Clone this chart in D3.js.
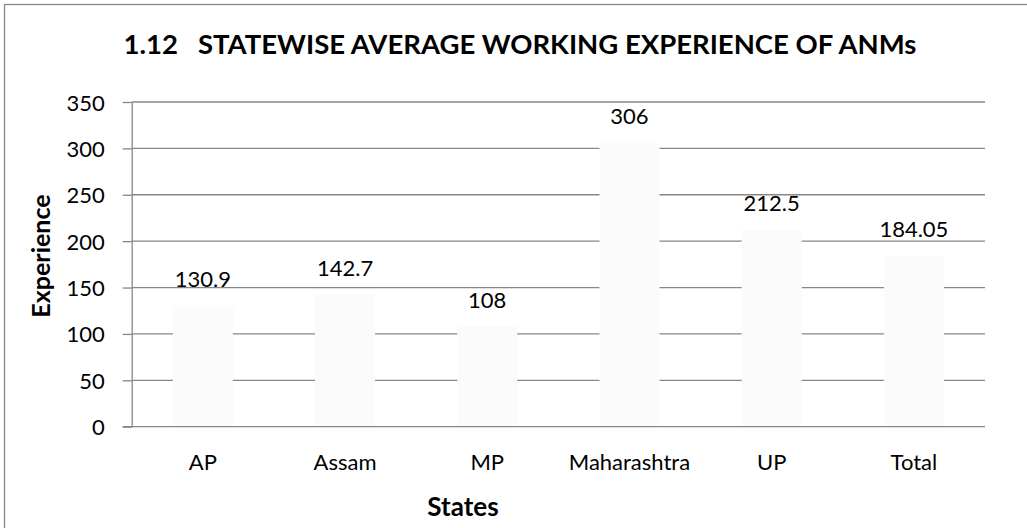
<!DOCTYPE html>
<html>
<head>
<meta charset="utf-8">
<script src="https://cdn.jsdelivr.net/npm/d3@7"></script>
<style>
  html, body { margin: 0; padding: 0; background: #fff; }
  svg { display: block; }
  text { font-family: Lato, "Open Sans", sans-serif; fill: #000; }
</style>
</head>
<body>
<script>
// ---- data ----
const categories = ["AP", "Assam", "MP", "Maharashtra", "UP", "Total"];
const values = [130.9, 142.7, 108, 306, 212.5, 184.05];
const valueLabels = ["130.9", "142.7", "108", "306", "212.5", "184.05"];
const yTicks = [0, 50, 100, 150, 200, 250, 300, 350];
const titleText = "1.12   STATEWISE AVERAGE WORKING EXPERIENCE OF ANMs";
const xTitle = "States";
const yTitle = "Experience";

// ---- layout ----
const W = 1027, H = 528;
const plot = { left: 131.7, right: 985, top: 102, bottom: 426.7 };

const svg = d3.select("body").append("svg").attr("width", W).attr("height", H);

// chart border
svg.append("rect")
  .attr("x", 4.5).attr("y", 4.5)
  .attr("width", W + 20).attr("height", H + 20)
  .attr("fill", "#fff").attr("stroke", "#878787").attr("stroke-width", 1.3);

const x = d3.scaleBand().domain(categories)
  .range([plot.left, plot.right])
  .paddingInner(0.578).paddingOuter(0.289);
const y = d3.scaleLinear().domain([0, 350]).range([plot.bottom, plot.top]);

// gridlines
svg.append("g").selectAll("line").data(yTicks.filter(d => d > 0)).join("line")
  .attr("x1", plot.left).attr("x2", plot.right)
  .attr("y1", d => y(d)).attr("y2", d => y(d))
  .attr("stroke", "#878787").attr("stroke-width", 1.3);

// bars (near-white, hiding gridlines)
svg.append("g").selectAll("rect").data(values).join("rect")
  .attr("x", (d, i) => x(categories[i]))
  .attr("width", x.bandwidth())
  .attr("y", d => y(d))
  .attr("height", d => y(0) - y(d))
  .attr("fill", "#fbfbfb");

// y axis
const yAxis = d3.axisLeft(y).tickValues(yTicks).tickSize(9).tickSizeOuter(0).tickPadding(18);
const gy = svg.append("g").attr("transform", `translate(${plot.left},0)`).call(yAxis);
gy.select(".domain").attr("stroke", "#878787").attr("stroke-width", 1.3);
gy.selectAll(".tick line").attr("stroke", "#878787").attr("stroke-width", 1.3);
gy.selectAll(".tick text").attr("font-size", 22).attr("dy", null).attr("y", 8)
  .style("font-family", "Lato, sans-serif");

// x axis
const xAxis = d3.axisBottom(x).tickSize(0).tickSizeOuter(0).tickPadding(0);
const gx = svg.append("g").attr("transform", `translate(0,${plot.bottom})`).call(xAxis);
gx.select(".domain").attr("stroke", "#878787").attr("stroke-width", 1.3)
  .attr("d", `M${plot.left - 9},0H${plot.right}`);
gx.selectAll(".tick text").attr("font-size", 22).attr("dy", null).attr("y", 43)
  .style("font-family", "Lato, sans-serif");

// data labels
svg.append("g").selectAll("text").data(values).join("text")
  .attr("x", (d, i) => x(categories[i]) + x.bandwidth() / 2)
  .attr("y", d => y(d) - 18.5)
  .attr("text-anchor", "middle")
  .attr("font-size", 22)
  .text((d, i) => valueLabels[i]);

// title
svg.append("text")
  .attr("x", 520).attr("y", 54)
  .attr("text-anchor", "middle")
  .attr("font-size", 27.5).attr("font-weight", "bold")
  .style("white-space", "pre")
  .text(titleText);

// axis titles
svg.append("text")
  .attr("x", 463).attr("y", 516)
  .attr("text-anchor", "middle")
  .attr("font-size", 26).attr("font-weight", "bold")
  .text(xTitle);

svg.append("text")
  .attr("transform", "translate(50,256) rotate(-90)")
  .attr("text-anchor", "middle")
  .attr("font-size", 25).attr("font-weight", "bold")
  .text(yTitle);
</script>
</body>
</html>
